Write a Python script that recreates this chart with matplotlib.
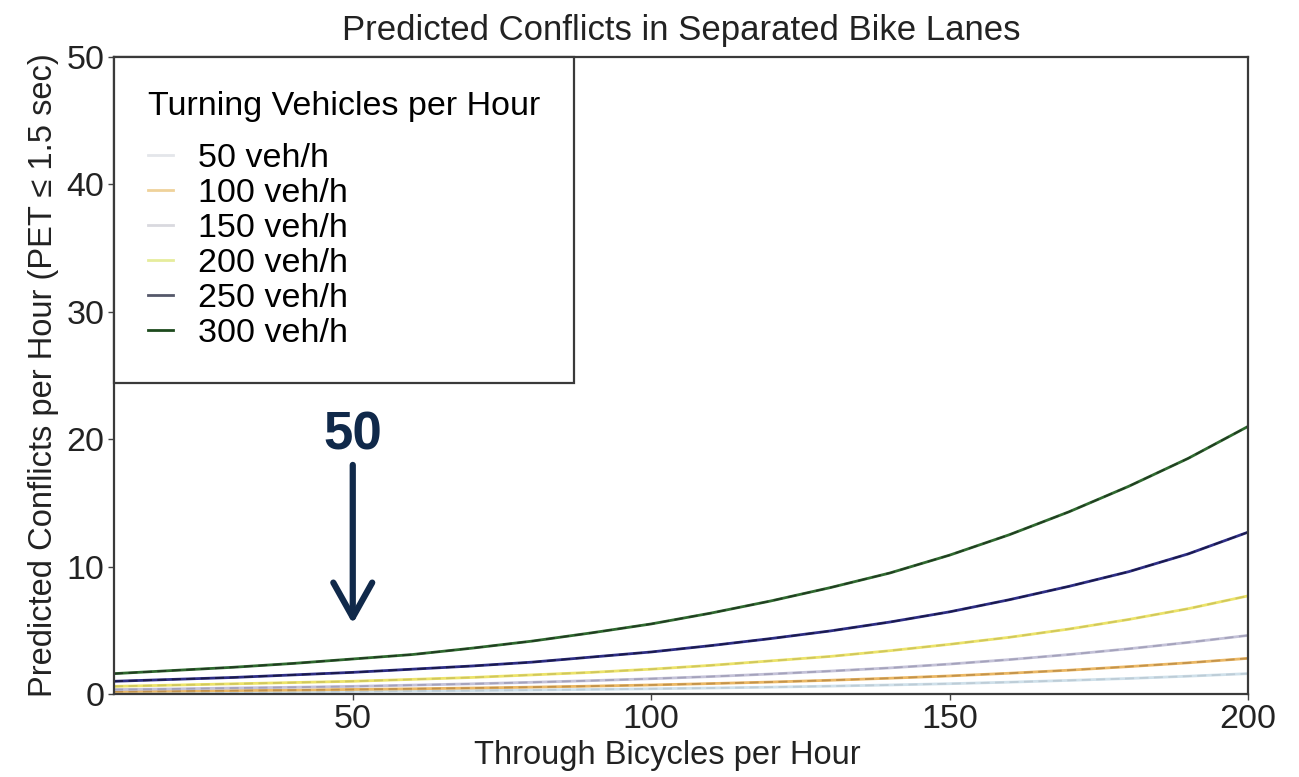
import numpy as np
import matplotlib
matplotlib.use("Agg")
import matplotlib.pyplot as plt
from matplotlib.lines import Line2D

plt.rcParams['font.family'] = ['Liberation Sans', 'DejaVu Sans']

# through bicycles per hour
bikes = [10, 20, 30, 40, 50, 60, 70, 80, 90, 100,
         110, 120, 130, 140, 150, 160, 170, 180, 190, 200]

# predicted conflicts per hour, one list per turning volume
conf_50 = [0.12, 0.14, 0.16, 0.18, 0.21, 0.24, 0.27, 0.31, 0.36, 0.41,
           0.47, 0.54, 0.62, 0.71, 0.81, 0.93, 1.07, 1.22, 1.40, 1.60]
conf_100 = [0.20, 0.23, 0.27, 0.31, 0.36, 0.41, 0.47, 0.54, 0.62, 0.71,
            0.82, 0.94, 1.08, 1.24, 1.42, 1.63, 1.87, 2.15, 2.45, 2.80]
conf_150 = [0.35, 0.40, 0.47, 0.53, 0.60, 0.70, 0.80, 0.92, 1.05, 1.20,
            1.37, 1.57, 1.80, 2.05, 2.35, 2.70, 3.10, 3.55, 4.05, 4.60]
conf_200 = [0.60, 0.70, 0.80, 0.90, 1.00, 1.15, 1.30, 1.50, 1.70, 1.95,
            2.25, 2.60, 2.95, 3.40, 3.90, 4.45, 5.10, 5.85, 6.70, 7.70]
conf_250 = [1.00, 1.15, 1.30, 1.50, 1.70, 1.95, 2.20, 2.50, 2.90, 3.30,
            3.80, 4.35, 4.95, 5.65, 6.45, 7.40, 8.45, 9.60, 11.0, 12.7]
conf_300 = [1.60, 1.85, 2.10, 2.40, 2.75, 3.10, 3.60, 4.15, 4.80, 5.50,
            6.35, 7.30, 8.35, 9.50, 10.9, 12.5, 14.3, 16.3, 18.5, 21.0]

labels = ["50 veh/h", "100 veh/h", "150 veh/h", "200 veh/h", "250 veh/h", "300 veh/h"]
series = [conf_50, conf_100, conf_150, conf_200, conf_250, conf_300]
colors = ["#cfe0ea", "#ebb865", "#c4c2d8", "#ece36a", "#2e2e86", "#2f6a2f"]
dash_colors = ["#b9c8d2", "#b98a45", "#9d9bb4", "#c9c05a", "#15153a", "#1e301e"]
legend_colors = ["#e4e6ea", "#efd29a", "#d9d9df", "#e6ec9c", "#55586a", "#1d4a1d"]

fig = plt.figure(figsize=(12.99, 7.77), dpi=100)
ax = fig.add_axes([0.0878, 0.1068, 0.8729, 0.8198])

for y, c, dc in zip(series, colors, dash_colors):
    ax.plot(bikes, y, color=c, lw=2.0, solid_capstyle='butt')
    ax.plot(bikes, y, color=dc, lw=1.3, ls=(0, (5, 3)), alpha=0.8)

ax.set_xlim(10, 200)
ax.set_ylim(0, 50)
ax.set_xticks([50, 100, 150, 200])
ax.set_yticks([0, 10, 20, 30, 40, 50])
ax.tick_params(labelsize=24.5, colors='#444444', length=4, width=1, labelcolor='#222222', pad=3)
for s in ax.spines.values():
    s.set_color('#3a3a3a')
    s.set_linewidth(1.6)

ax.set_title("Predicted Conflicts in Separated Bike Lanes", fontsize=25, color='#222222', pad=12)
ax.set_xlabel("Through Bicycles per Hour", fontsize=23.5, color='#222222', labelpad=7)
ax.xaxis.set_label_coords(0.488, -0.072)
ax.set_ylabel("Predicted Conflicts per Hour (PET \u2264 1.5 sec)", fontsize=23.5, color='#222222', labelpad=5)

handles = [Line2D([0], [0], color=c, lw=2) for c in legend_colors]
leg = ax.legend(handles, labels, title="Turning Vehicles per Hour", loc='upper left',
                bbox_to_anchor=(0, 1), borderaxespad=0, fontsize=24.5, title_fontsize=24.5,
                alignment='left', frameon=True, fancybox=False, handlelength=0.72,
                handletextpad=0.75, labelspacing=0.12, borderpad=1.0)
leg.get_frame().set_edgecolor('#3a3a3a')
leg.get_frame().set_linewidth(1.6)
leg.get_frame().set_alpha(1)
leg._legend_box.sep = 15

# annotation arrow at 50 bikes per hour
ax.text(50, 20.3, "50", fontsize=38, fontweight='bold', color='#10294a', ha='center', va='center')
ax.annotate("", xy=(50, 5.3), xytext=(50, 18.2),
            arrowprops=dict(arrowstyle='->,head_length=2.5,head_width=1.4', color='#10294a',
                            lw=4.5, mutation_scale=10))

fig.savefig("out.png", dpi=100)
